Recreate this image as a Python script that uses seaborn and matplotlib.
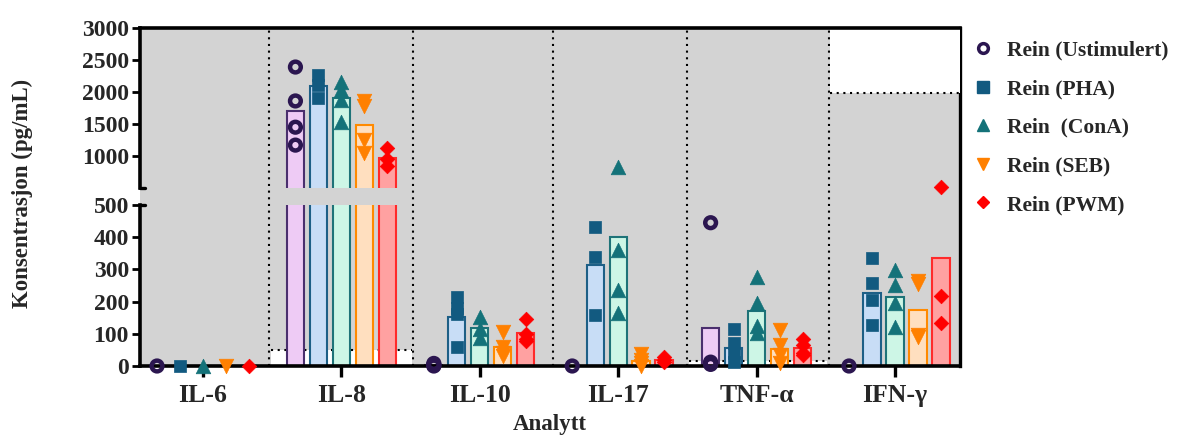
import numpy as np
import pandas as pd
import matplotlib
matplotlib.use("Agg")
import matplotlib.pyplot as plt
from matplotlib.lines import Line2D
from matplotlib.patches import Rectangle
import seaborn as sns

sns.set_theme(style="white")
plt.rcParams["font.family"] = ["Liberation Serif", "DejaVu Serif"]
plt.rcParams["font.weight"] = "bold"

analytes = ["IL-6", "IL-8", "IL-10", "IL-17", "TNF-α", "IFN-γ"]
groups = ["Rein (Ustimulert)", "Rein (PHA)", "Rein  (ConA)", "Rein (SEB)", "Rein (PWM)"]

# bar heights (group means as drawn)
bar_ust = [0, 1702, 3, 0, 118, 0]
bar_pha = [0, 2092, 152, 314, 56, 227]
bar_cona = [0, 1905, 118, 400, 171, 214]
bar_seb = [0, 1484, 59, 16, 53, 174]
bar_pwm = [0, 969, 102, 19, 56, 335]

# individual samples
pts_ust = [[0], [2390, 1860, 1450, 1170], [8, 4, 2, 0], [0], [445, 12, 8, 5], [0]]
pts_pha = [[0], [2265, 2110, 1905], [215, 180, 160, 60], [432, 339, 158], [116, 71, 40, 12], [335, 258, 205, 127]]
pts_cona = [[0], [2155, 2030, 1875, 1530], [153, 115, 87], [835, 360, 236, 165], [277, 197, 124, 102], [298, 252, 196, 121]]
pts_seb = [[0], [1860, 1780, 1250, 1050], [105, 60, 40, 30], [38, 20, 8, 0], [112, 65, 35, 10], [265, 255, 95, 90]]
pts_pwm = [[0], [1130, 960, 850], [146, 100, 85, 78], [28, 20, 12], [84, 65, 40, 35], [520, 218, 134]]

# detection limits (white = outside measurable range)
lower_limit = {"IL-8": 50, "TNF-α": 15}
upper_limit = {"IFN-γ": 1985}

bars = [bar_ust, bar_pha, bar_cona, bar_seb, bar_pwm]
points = [pts_ust, pts_pha, pts_cona, pts_seb, pts_pwm]

face_cols = ["#eecbf5", "#c8ddf6", "#cdf6e6", "#ffdfbf", "#ffa1a1"]
edge_cols = ["#4a2f6e", "#1d5f86", "#1e7378", "#ff8a00", "#ff2a2a"]
mark_cols = ["#2b1650", "#125a80", "#147279", "#ff8000", "#ff0000"]
markers = ["o", "s", "^", "v", "D"]
msizes = [60, 80, 110, 110, 55]

offsets = np.array([-2, -1, 0, 1, 2]) * 0.166
sep_x = [0.48, 1.52, 2.53, 3.50, 4.52]
xlim = (-0.455, 5.47)

bar_df = pd.DataFrame([
    dict(group=g, pos=a + offsets[i], value=v)
    for i, g in enumerate(groups) for a, v in enumerate(bars[i])
])
pt_df = pd.DataFrame([
    dict(group=g, pos=a + offsets[i], value=v)
    for i, g in enumerate(groups) for a, vals in enumerate(points[i]) for v in vals
])

fig = plt.figure(figsize=(11.86, 4.36), dpi=100)
L, W = 140 / 1186, 820 / 1186
bg = fig.add_axes([L, 70 / 436, W, 338 / 436])
ax_up = fig.add_axes([L, 248 / 436, W, 160 / 436], facecolor="none")
ax_lo = fig.add_axes([L, 70 / 436, W, 161 / 436], facecolor="none")

bg.set_facecolor("#d3d3d3")
bg.set_xlim(xlim)
bg.set_xticks([])
bg.set_yticks([])
for s in ["top", "left", "bottom"]:
    bg.spines[s].set_visible(False)
bg.spines["right"].set_linewidth(2.4)
bg.spines["right"].set_color("black")
for x in sep_x:
    bg.axvline(x, color="black", lw=1.5, ls=(0, (1, 2.2)))

edges = [xlim[0]] + sep_x + [xlim[1]]

for ax, (lo, hi) in [(ax_up, (500, 3000)), (ax_lo, (0, 500))]:
    # white regions outside the measurable range
    for a, name in enumerate(analytes):
        x0, x1 = edges[a] + 0.012, edges[a + 1] - 0.012
        if name in lower_limit:
            lim = lower_limit[name]
            ax.add_patch(Rectangle((x0, 0), x1 - x0, lim, color="white", zorder=0.5, lw=0))
            ax.plot([x0, x1], [lim, lim], color="black", lw=1.5, ls=(0, (1, 2.2)), zorder=0.6)
        if name in upper_limit:
            lim = upper_limit[name]
            ax.add_patch(Rectangle((x0, lim), edges[a + 1] - x0, 5000, color="white", zorder=0.5, lw=0))
            ax.plot([x0, edges[a + 1]], [lim, lim], color="black", lw=1.5, ls=(0, (1, 2.2)), zorder=0.6)

    for i, g in enumerate(groups):
        sub = bar_df[bar_df.group == g]
        sns.barplot(data=sub, x="pos", y="value", native_scale=True, width=0.125,
                    color=face_cols[i], edgecolor=edge_cols[i], linewidth=1.5,
                    saturation=1, errorbar=None, ax=ax, zorder=2)

    for i, g in enumerate(groups):
        sub = pt_df[pt_df.group == g]
        sub = sub[(sub.value > 500) if lo == 500 else (sub.value <= 500)]
        if sub.empty:
            continue
        if markers[i] == "o":
            sns.scatterplot(data=sub, x="pos", y="value", marker="o", s=msizes[i],
                            facecolor="none", edgecolor=mark_cols[i], linewidth=3.2,
                            ax=ax, zorder=5, clip_on=False, legend=False)
        else:
            sns.scatterplot(data=sub, x="pos", y="value", marker=markers[i], s=msizes[i],
                            color=mark_cols[i], edgecolor=mark_cols[i], linewidth=0.5,
                            ax=ax, zorder=5, clip_on=False, legend=False)

    ax.set_xlim(xlim)
    ax.set_ylim(lo, hi)
    ax.set_xlabel("")
    ax.set_ylabel("")
    ax.spines["right"].set_visible(False)
    ax.spines["left"].set_linewidth(2.6)
    ax.spines["left"].set_color("black")
    ax.tick_params(axis="y", which="major", direction="out", length=6, width=2,
                   color="black", labelsize=17, pad=2, left=True)

ax_up.spines["bottom"].set_visible(False)
ax_up.spines["top"].set_linewidth(2.6)
ax_up.spines["top"].set_color("black")
ax_up.set_xticks([])
ax_up.set_yticks([1000, 1500, 2000, 2500, 3000])
ax_up.plot([0, 0.006], [0, 0], transform=ax_up.transAxes, color="black", lw=2.4, clip_on=False)

ax_lo.spines["top"].set_visible(False)
ax_lo.spines["bottom"].set_linewidth(2.6)
ax_lo.spines["bottom"].set_color("black")
ax_lo.set_yticks([0, 100, 200, 300, 400, 500])
ax_lo.plot([0, 0.006], [1, 1], transform=ax_lo.transAxes, color="black", lw=2.4, clip_on=False)
ax_lo.set_xticks(range(len(analytes)))
ax_lo.set_xticklabels(analytes, fontsize=18.5, fontweight="bold")
ax_lo.tick_params(axis="x", direction="out", length=8, width=2.4, color="black",
                  bottom=True, pad=5)
for ax in (ax_up, ax_lo):
    for lab in ax.get_yticklabels():
        lab.set_fontweight("bold")

fig.text(22 / 1186, 1 - 193 / 436, "Konsentrasjon (pg/mL)", rotation=90,
         ha="center", va="center", fontsize=16.5, fontweight="bold")
fig.text(550 / 1186, 1 - 424 / 436, "Analytt", ha="center", va="center",
         fontsize=16.5, fontweight="bold")

handles = []
for i, g in enumerate(groups):
    if markers[i] == "o":
        h = Line2D([], [], ls="", marker="o", ms=7, mfc="none", mec=mark_cols[i], mew=2.5)
    else:
        h = Line2D([], [], ls="", marker=markers[i], ms=8 if markers[i] != "D" else 6.5,
                   color=mark_cols[i])
    handles.append(h)
fig.legend(handles, groups, loc="upper left", bbox_to_anchor=(964 / 1186, 1 - 32 / 436),
           frameon=False, labelspacing=0.86, handlelength=1.0,
           handletextpad=0.6, borderaxespad=0, prop={"weight": "bold", "size": 15.5})

fig.savefig("out.png", dpi=100)
